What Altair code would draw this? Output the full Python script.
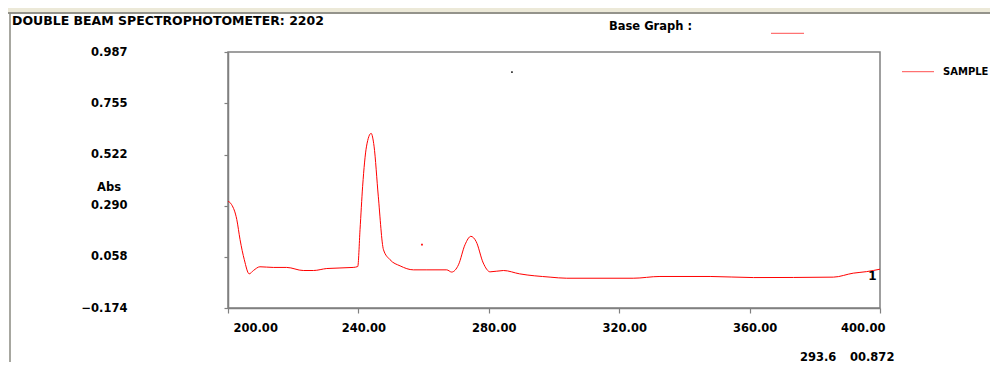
import altair as alt
import pandas as pd

# ---- data ----
wavelength = [200, 201.1, 202.7, 203.7, 205, 206.5, 207.8, 209.8, 213.9, 218, 223.1, 226.2,
              230.3, 238.4, 239.8, 240.5, 241.3, 242.5, 243.9, 244.8, 246.1, 247.7, 249.7,
              252.8, 256.9, 261, 267.1, 268.6, 270.7, 272.7, 274.5, 276.1, 278.3, 280.4,
              284.5, 289.4, 298.8, 303.9, 324.3, 332.5, 347.9, 361.2, 385.7, 391.8, 395.9, 400]
absorbance = [0.310, 0.295, 0.227, 0.136, 0.045, -0.019, -0.004, 0.013, 0.010, 0.010, -0.004,
              -0.004, 0.005, 0.010, 0.014, 0.181, 0.378, 0.560, 0.618, 0.560, 0.333, 0.090,
              0.045, 0.017, -0.001, -0.001, -0.001, -0.011, 0.022, 0.113, 0.151, 0.128, 0.030,
              -0.010, -0.004, -0.019, -0.034, -0.039, -0.039, -0.031, -0.031, -0.036, -0.034,
              -0.016, -0.009, 0.002]
dot_x = [259.5, 287.1]
dot_y = [0.113, 0.896]
dot_color = ["#ff0000", "#333333"]

y_ticks = [0.987, 0.755, 0.522, 0.290, 0.058, -0.174]
x_ticks = [200, 240, 280, 320, 360, 400]

df = pd.DataFrame({"wl": wavelength, "abs": absorbance})
dots = pd.DataFrame({"wl": dot_x, "abs": dot_y, "c": dot_color})
one = pd.DataFrame({"k": [0]})

FONT = "DejaVu Sans"

xscale = alt.Scale(domain=[200, 400], nice=False, zero=False)
yscale = alt.Scale(domain=[-0.174, 0.987], nice=False, zero=False)

line = alt.Chart(df).mark_line(color="#ff0000", strokeWidth=1, interpolate="monotone").encode(
    x=alt.X("wl:Q", scale=xscale,
            axis=alt.Axis(values=x_ticks, format=".2f", title=None, tickSize=5,
                          labelPadding=9, labelOffset=5)),
    y=alt.Y("abs:Q", scale=yscale,
            axis=alt.Axis(values=y_ticks, format=".3f", title=None, tickSize=4,
                          labelPadding=97)),
)

pts = alt.Chart(dots).mark_square(size=3, opacity=1).encode(
    x=alt.X("wl:Q", scale=xscale), y=alt.Y("abs:Q", scale=yscale),
    color=alt.Color("c:N", scale=None),
)


def label(txt, x, y, align="left", size=11.5):
    return alt.Chart(one).mark_text(
        text=txt, align=align, baseline="middle", font=FONT, fontWeight="bold",
        fontSize=size, color="black",
    ).encode(x=alt.value(x), y=alt.value(y))


def rule(x1, x2, y1, y2, color, w=1):
    return alt.Chart(one).mark_rule(color=color, strokeWidth=w).encode(
        x=alt.value(x1), x2=alt.value(x2), y=alt.value(y1), y2=alt.value(y2))


topbar = alt.Chart(one).mark_rect(color="#ece9d8").encode(
    x=alt.value(-228), x2=alt.value(770), y=alt.value(-52), y2=alt.value(-40))

chart = alt.layer(
    topbar,
    rule(-228, 770, -39, -39, "#716f64", 1.5),
    rule(-218, -218, -39, 310, "#8a8a80", 1.5),
    line,
    pts,
    label("DOUBLE BEAM SPECTROPHOTOMETER: 2202", -216, -31, size=12.5),
    label("Base Graph :", 381, -25.5),
    rule(543, 576, -18.7, -18.7, "#ff5050", 1),
    rule(674, 706, 19.7, 19.7, "#ff5050", 1),
    label("SAMPLE", 715, 19.7, size=10),
    label("Abs", -119, 135.5, align="center"),
    label("1", 644.5, 224, align="center", size=12),
    label("293.6", 572, 305.5),
    label("00.872", 622, 305.5),
).properties(
    width=652, height=256,
    autosize=alt.AutoSizeParams(type="none"),
    padding={"left": 220, "top": 44, "right": 110, "bottom": 54},
).configure_view(
    stroke="#808080", strokeWidth=1.5,
).configure_axis(
    grid=False, labelFont=FONT, labelFontWeight="bold", labelFontSize=11.5,
    labelColor="black", domainColor="#808080", tickColor="#808080",
    domainWidth=1.5, tickWidth=1.2,
)

chart.save("out.html", embed_options={"renderer": "svg", "actions": False})
